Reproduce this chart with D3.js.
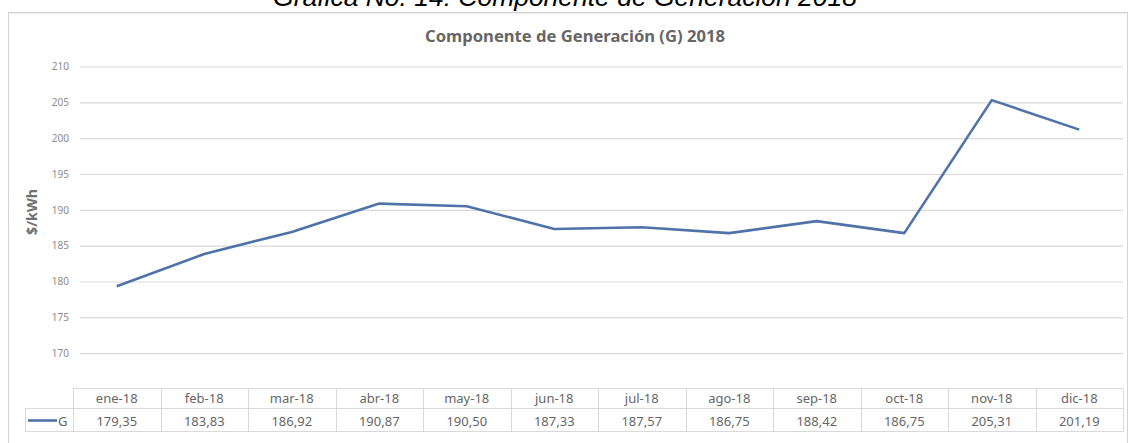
<!DOCTYPE html>
<html>
<head>
<meta charset="utf-8">
<script src="https://cdn.jsdelivr.net/npm/d3@7"></script>
<style>
  html, body { margin: 0; padding: 0; background: #fff; }
  svg { display: block; }
</style>
</head>
<body>
<svg id="chart" width="1131" height="443"></svg>
<script>
// Monthly generation component (G), $/kWh, 2018
const months = ["ene-18","feb-18","mar-18","abr-18","may-18","jun-18","jul-18","ago-18","sep-18","oct-18","nov-18","dic-18"];
const valuesG = [179.35, 183.83, 186.92, 190.87, 190.50, 187.33, 187.57, 186.75, 188.42, 186.75, 205.31, 201.19];
const valueLabels = ["179,35","183,83","186,92","190,87","190,50","187,33","187,57","186,75","188,42","186,75","205,31","201,19"];
const yTicks = [170, 175, 180, 185, 190, 195, 200, 205, 210];
const seriesName = "G";

const svg = d3.select("#chart");

const plot = { left: 73, right: 1123, top: 66.5, bottom: 389 };
const grey = "#d9d9d9";
const textCol = "#595959";
const lineCol = "#4f73a8";
const font = "'Noto Sans', 'Liberation Sans', sans-serif";

// Fit a text element to a given width by adjusting its font size
function fitWidth(sel, size, width) {
  sel.attr("font-size", size);
  const w = sel.node().getComputedTextLength();
  sel.attr("font-size", size * width / w);
  return sel;
}

// Page caption above the chart frame
const cap = svg.append("text")
  .attr("x", 565).attr("y", 6)
  .attr("text-anchor", "middle")
  .attr("font-family", "'Liberation Sans', Arial, sans-serif")
  .attr("font-style", "italic")
  .attr("fill", "#000")
  .text("Gráfica No. 14: Componente de Generación 2018");
fitWidth(cap, 24, 584);

// Chart frame
svg.append("rect")
  .attr("x", 8.5).attr("y", 12.5)
  .attr("width", 1119).attr("height", 440)
  .attr("fill", "#fff")
  .attr("stroke", "#d4d4d4").attr("stroke-width", 1);
svg.append("line")
  .attr("x1", 9).attr("x2", 1127).attr("y1", 13.5).attr("y2", 13.5)
  .attr("stroke", "#ececec").attr("stroke-width", 1);

// Chart title
const title = svg.append("text")
  .attr("x", 575).attr("y", 42)
  .attr("text-anchor", "middle")
  .attr("font-family", font)
  .attr("font-weight", "bold")
  .attr("fill", "#666")
  .text("Componente de Generación (G) 2018");
fitWidth(title, 14, 300);

// Scales
const x = d3.scaleBand().domain(months).range([plot.left, plot.right]);
const y = d3.scaleLinear().domain([165, 210]).range([plot.bottom, plot.top]);

// Horizontal gridlines + value axis labels
const yAxis = d3.axisLeft(y).tickValues(yTicks).tickSize(-(plot.right - 80)).tickPadding(11);
const gy = svg.append("g").attr("transform", `translate(80,0)`).call(yAxis);
gy.select(".domain").remove();
gy.selectAll(".tick line").attr("stroke", grey).attr("stroke-width", 1.2);
gy.selectAll(".tick text")
  .attr("font-family", font)
  .attr("font-size", 10)
  .attr("fill", "#8c8c8c");

// Axis title
const ytitle = svg.append("text")
  .attr("transform", `translate(37,212) rotate(-90)`)
  .attr("text-anchor", "middle")
  .attr("font-family", font)
  .attr("font-weight", "bold")
  .attr("fill", "#707070")
  .text("$/kWh");
fitWidth(ytitle, 11, 46);

// Series line
const line = d3.line()
  .x((d, i) => x(months[i]) + x.bandwidth() / 2)
  .y(d => y(d));
svg.append("path")
  .datum(valuesG)
  .attr("d", line)
  .attr("fill", "none")
  .attr("stroke", lineCol)
  .attr("stroke-width", 2.6)
  .attr("stroke-linejoin", "round");

// Data table below the plot
const rowTop = 388.5, rowMid = 408.5, rowBot = 431.5;
const tbl = svg.append("g").attr("stroke", grey).attr("stroke-width", 1);
tbl.append("line").attr("x1", plot.left).attr("x2", plot.right).attr("y1", rowTop).attr("y2", rowTop);
tbl.append("line").attr("x1", 25).attr("x2", plot.right).attr("y1", rowMid).attr("y2", rowMid);
tbl.append("line").attr("x1", 25).attr("x2", plot.right).attr("y1", rowBot).attr("y2", rowBot);
tbl.append("line").attr("x1", 25.5).attr("x2", 25.5).attr("y1", rowMid).attr("y2", rowBot);
tbl.selectAll("line.col")
  .data(months.concat(["end"]))
  .enter().append("line")
  .attr("class", "col")
  .attr("x1", (d, i) => Math.round(plot.left + i * x.bandwidth()) + 0.5)
  .attr("x2", (d, i) => Math.round(plot.left + i * x.bandwidth()) + 0.5)
  .attr("y1", rowTop).attr("y2", rowBot);

svg.append("g").selectAll("text")
  .data(months).enter().append("text")
  .attr("x", d => x(d) + x.bandwidth() / 2)
  .attr("y", 403)
  .attr("text-anchor", "middle")
  .attr("font-family", font)
  .attr("font-size", 13)
  .attr("fill", "#666")
  .text(d => d);

svg.append("g").selectAll("text")
  .data(valueLabels).enter().append("text")
  .attr("x", (d, i) => x(months[i]) + x.bandwidth() / 2)
  .attr("y", 425.5)
  .attr("text-anchor", "middle")
  .attr("font-family", font)
  .attr("font-size", 13)
  .attr("fill", "#666")
  .text(d => d);

// Legend key inside the table
svg.append("line")
  .attr("x1", 28).attr("x2", 57).attr("y1", 420.5).attr("y2", 420.5)
  .attr("stroke", lineCol).attr("stroke-width", 2.6);
svg.append("text")
  .attr("x", 58).attr("y", 425.5)
  .attr("font-family", font)
  .attr("font-size", 13)
  .attr("fill", "#666")
  .text(seriesName);
</script>
</body>
</html>
